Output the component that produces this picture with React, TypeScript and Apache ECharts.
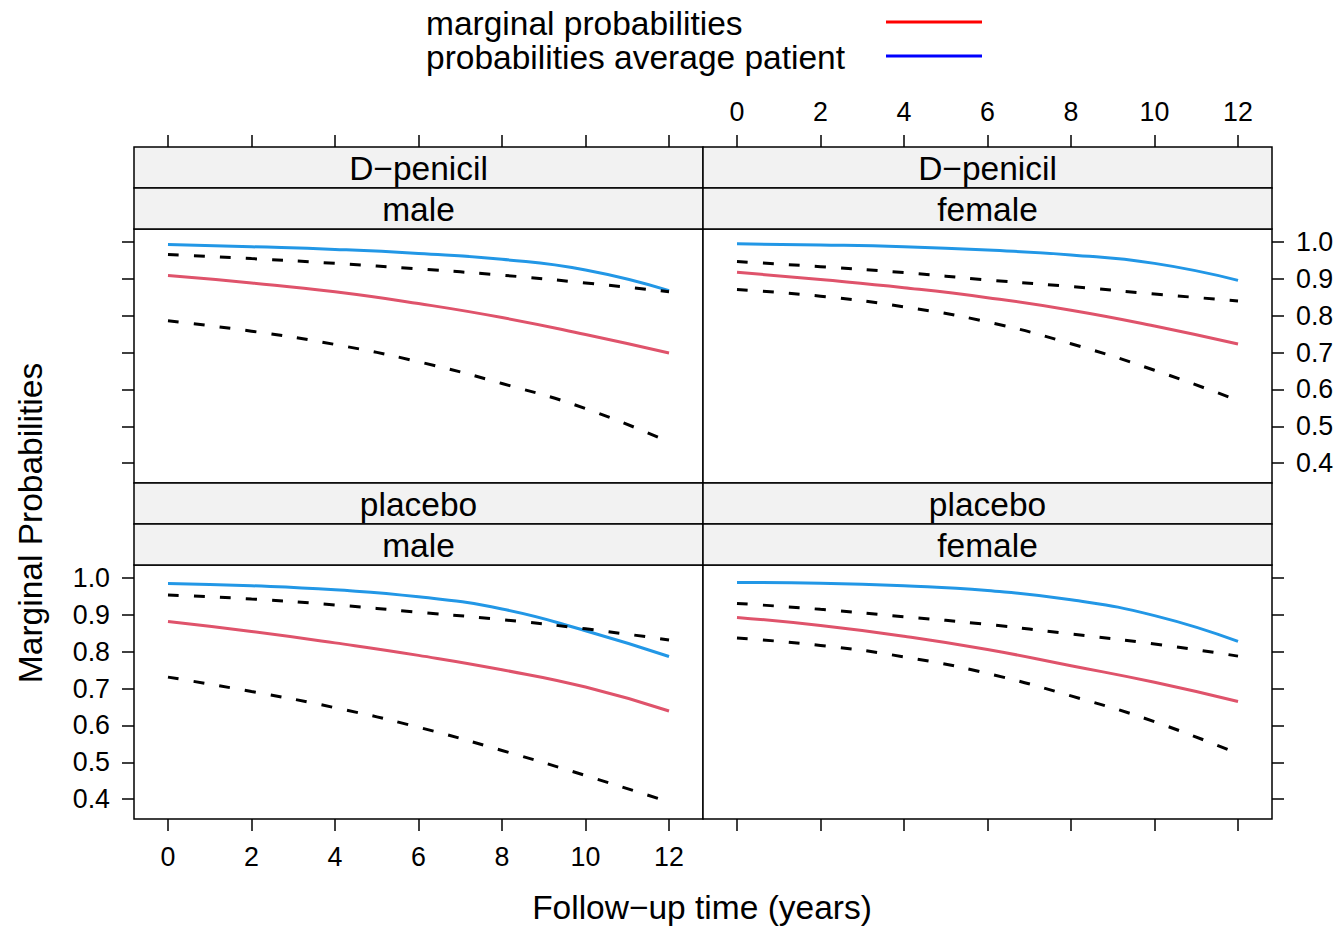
import React, { useEffect, useRef } from "react";
import * as echarts from "echarts";

const FONT = '"Liberation Sans", Arial, Helvetica, sans-serif';

// follow-up time points (years)
const years = [0, 2, 4, 6, 8, 10, 12];
const xTicks = [0, 2, 4, 6, 8, 10, 12];
const yTicks = [0.4, 0.5, 0.6, 0.7, 0.8, 0.9, 1.0];

const treatments = ["D\u2212penicil", "D\u2212penicil", "placebo", "placebo"];
const sexes = ["male", "female", "male", "female"];

// D-penicil / male
const dpMaleMarginal = [0.909, 0.889, 0.865, 0.833, 0.795, 0.749, 0.699];
const dpMaleAverage = [0.993, 0.987, 0.98, 0.969, 0.953, 0.924, 0.868];
const dpMaleUpper = [0.966, 0.955, 0.942, 0.927, 0.91, 0.889, 0.865];
const dpMaleLower = [0.786, 0.758, 0.722, 0.675, 0.616, 0.548, 0.457];

// D-penicil / female
const dpFemaleMarginal = [0.918, 0.898, 0.876, 0.849, 0.815, 0.772, 0.723];
const dpFemaleAverage = [0.995, 0.992, 0.987, 0.978, 0.965, 0.942, 0.896];
const dpFemaleUpper = [0.947, 0.933, 0.917, 0.897, 0.879, 0.859, 0.84];
const dpFemaleLower = [0.871, 0.853, 0.824, 0.783, 0.724, 0.652, 0.57];

// placebo / male
const plMaleMarginal = [0.882, 0.855, 0.824, 0.79, 0.751, 0.704, 0.639];
const plMaleAverage = [0.985, 0.979, 0.968, 0.949, 0.916, 0.857, 0.787];
const plMaleUpper = [0.954, 0.943, 0.927, 0.907, 0.887, 0.862, 0.832];
const plMaleLower = [0.731, 0.692, 0.648, 0.595, 0.532, 0.464, 0.392];

// placebo / female
const plFemaleMarginal = [0.893, 0.871, 0.842, 0.806, 0.762, 0.717, 0.665];
const plFemaleAverage = [0.988, 0.986, 0.979, 0.966, 0.941, 0.898, 0.828];
const plFemaleUpper = [0.931, 0.915, 0.895, 0.874, 0.848, 0.821, 0.788];
const plFemaleLower = [0.837, 0.817, 0.786, 0.741, 0.68, 0.61, 0.523];

const legendLabels = ["marginal probabilities", "probabilities average patient"];
const xTitle = "Follow\u2212up time (years)";
const yTitle = "Marginal Probabilities";

const panelData = [
  [dpMaleMarginal, dpMaleAverage, dpMaleUpper, dpMaleLower],
  [dpFemaleMarginal, dpFemaleAverage, dpFemaleUpper, dpFemaleLower],
  [plMaleMarginal, plMaleAverage, plMaleUpper, plMaleLower],
  [plFemaleMarginal, plFemaleAverage, plFemaleUpper, plFemaleLower],
];

// layout
const COL_LEFT = [134, 703];
const PANEL_W = 569;
const ROW_TOP = [147, 483];
const STRIP_H = 41;
const PLOT_H = 254;
const X_MIN = -0.814;
const X_MAX = 12.814;
const Y_MIN = 0.346;
const Y_MAX = 1.0353;
const TICK_FS = 26.8;
const BIG_FS = 33.5;
const SMOOTH = 0.5;

function buildOption() {
  const grids: any[] = [];
  const xAxes: any[] = [];
  const yAxes: any[] = [];
  const series: any[] = [];
  const graphics: any[] = [];

  for (let i = 0; i < 4; i++) {
    const row = Math.floor(i / 2);
    const col = i % 2;
    const left = COL_LEFT[col];
    const top = ROW_TOP[row] + 2 * STRIP_H;
    grids.push({
      left,
      top,
      width: PANEL_W,
      height: PLOT_H,
      show: true,
      borderColor: "#000",
      borderWidth: 1.5,
      backgroundColor: "#fff",
    });
    const showLabels = (row === 0 && col === 1) || (row === 1 && col === 0);
    xAxes.push({
      gridIndex: i,
      type: "value",
      min: X_MIN,
      max: X_MAX,
      position: row === 0 ? "top" : "bottom",
      offset: row === 0 ? 2 * STRIP_H : 0,
      axisLine: { show: false, onZero: false },
      splitLine: { show: false },
      axisTick: {
        show: true,
        inside: false,
        customValues: xTicks,
        length: 12,
        lineStyle: { color: "#000", width: 1.5 },
      },
      axisLabel: {
        show: showLabels,
        customValues: xTicks,
        margin: row === 0 ? 22 : 24,
        fontSize: TICK_FS,
        fontFamily: FONT,
        color: "#000",
      },
    });
    yAxes.push({
      gridIndex: i,
      type: "value",
      min: Y_MIN,
      max: Y_MAX,
      position: col === 0 ? "left" : "right",
      axisLine: { show: false, onZero: false },
      splitLine: { show: false },
      axisTick: {
        show: true,
        inside: false,
        customValues: yTicks,
        length: 12,
        lineStyle: { color: "#000", width: 1.5 },
      },
      axisLabel: {
        show: showLabels,
        customValues: yTicks,
        margin: 24,
        fontSize: TICK_FS,
        fontFamily: FONT,
        color: "#000",
        formatter: (v: number) => v.toFixed(1),
      },
    });

    const [marg, avg, upper, lower] = panelData[i];
    const mk = (arr: number[]) => years.map((x, j) => [x, arr[j]]);
    series.push({
      type: "line",
      name: legendLabels[0],
      xAxisIndex: i,
      yAxisIndex: i,
      data: mk(marg),
      smooth: SMOOTH,
      symbol: "none",
      lineStyle: { color: "#DF536B", width: 3 },
      z: 2,
    });
    series.push({
      type: "line",
      name: legendLabels[1],
      xAxisIndex: i,
      yAxisIndex: i,
      data: mk(avg),
      smooth: SMOOTH,
      symbol: "none",
      lineStyle: { color: "#2297E6", width: 3 },
      z: 2,
    });
    [upper, lower].forEach((arr) => {
      series.push({
        type: "line",
        name: "CI",
        xAxisIndex: i,
        yAxisIndex: i,
        data: mk(arr),
        smooth: SMOOTH,
        symbol: "none",
        lineStyle: { color: "#000", width: 3, type: [11, 15] },
        z: 3,
      });
    });

    // strips
    const labels = [treatments[i], sexes[i]];
    labels.forEach((lab, k) => {
      const sy = ROW_TOP[row] + k * STRIP_H;
      graphics.push({
        type: "rect",
        shape: { x: left, y: sy, width: PANEL_W, height: STRIP_H },
        style: { fill: "#F2F2F2", stroke: "#000", lineWidth: 1.5 },
        z: 10,
      });
      graphics.push({
        type: "text",
        x: left + PANEL_W / 2,
        y: sy + STRIP_H / 2 + 1,
        style: {
          text: lab,
          fontSize: BIG_FS,
          fontFamily: FONT,
          fill: "#000",
          textAlign: "center",
          textVerticalAlign: "middle",
        },
        z: 11,
      });
    });
  }

  // legend
  const legendColors = ["#FF0000", "#0000FF"];
  const legendY = [23.5, 57.5];
  legendLabels.forEach((lab, k) => {
    graphics.push({
      type: "text",
      x: 426,
      y: legendY[k],
      style: {
        text: lab,
        fontSize: BIG_FS,
        fontFamily: FONT,
        fill: "#000",
        textAlign: "left",
        textVerticalAlign: "middle",
      },
    });
    graphics.push({
      type: "line",
      shape: { x1: 886, y1: legendY[k] - 1.5, x2: 982, y2: legendY[k] - 1.5 },
      style: { stroke: legendColors[k], lineWidth: 3 },
    });
  });

  // axis titles
  graphics.push({
    type: "text",
    x: 702,
    y: 907,
    style: {
      text: xTitle,
      fontSize: BIG_FS,
      fontFamily: FONT,
      fill: "#000",
      textAlign: "center",
      textVerticalAlign: "middle",
    },
  });
  graphics.push({
    type: "text",
    x: 30,
    y: 523,
    rotation: Math.PI / 2,
    style: {
      text: yTitle,
      fontSize: BIG_FS,
      fontFamily: FONT,
      fill: "#000",
      textAlign: "center",
      textVerticalAlign: "middle",
    },
  });

  return {
    animation: false,
    backgroundColor: "#fff",
    grid: grids,
    xAxis: xAxes,
    yAxis: yAxes,
    series,
    graphic: { elements: graphics },
  };
}

export default function App() {
  const ref = useRef<HTMLDivElement>(null);
  useEffect(() => {
    if (!ref.current) return;
    const chart = echarts.init(ref.current, null, { renderer: "svg" });
    chart.setOption(buildOption() as any);
    return () => chart.dispose();
  }, []);
  return (
    <div
      ref={ref}
      style={{ position: "fixed", left: 0, top: 0, width: 1340, height: 928, background: "#fff" }}
    />
  );
}
